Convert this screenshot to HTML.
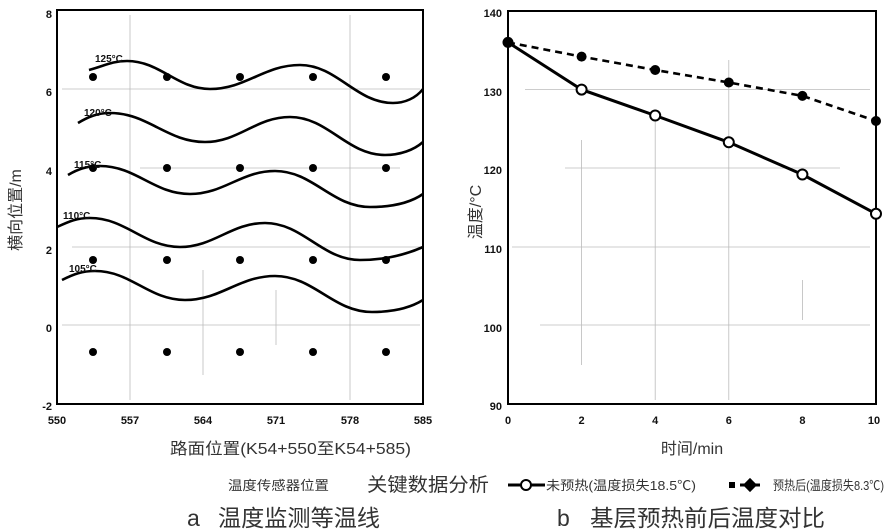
<!DOCTYPE html>
<html><head><meta charset="utf-8"><style>
html,body{margin:0;padding:0;background:#fff;}
svg{display:block;}
.t{font-family:"Liberation Sans",sans-serif;font-weight:bold;font-size:11px;fill:#111;}
.c{font-family:"Liberation Sans","Noto Sans CJK SC",sans-serif;fill:#333;}
</style></head><body>
<svg width="885" height="531" viewBox="0 0 885 531" xmlns="http://www.w3.org/2000/svg">
<rect width="885" height="531" fill="#fff"/>
<!-- LEFT PLOT -->
<g stroke="#bbb" stroke-width="0.8">
<line x1="130" y1="15" x2="130" y2="400"/>
<line x1="203" y1="270" x2="203" y2="375"/>
<line x1="276" y1="290" x2="276" y2="345"/>
<line x1="350" y1="15" x2="350" y2="400"/>
<line x1="62" y1="89" x2="420" y2="89"/>
<line x1="140" y1="168" x2="400" y2="168"/>
<line x1="72" y1="247" x2="420" y2="247"/>
<line x1="62" y1="325" x2="420" y2="325"/>
</g>
<rect x="57" y="10" width="366" height="394" fill="none" stroke="#000" stroke-width="2"/>
<g fill="#000">
<circle cx="93" cy="77" r="4"/><circle cx="167" cy="77" r="4"/><circle cx="240" cy="77" r="4"/><circle cx="313" cy="77" r="4"/><circle cx="386" cy="77" r="4"/>
<circle cx="93" cy="168" r="4"/><circle cx="167" cy="168" r="4"/><circle cx="240" cy="168" r="4"/><circle cx="313" cy="168" r="4"/><circle cx="386" cy="168" r="4"/>
<circle cx="93" cy="260" r="4"/><circle cx="167" cy="260" r="4"/><circle cx="240" cy="260" r="4"/><circle cx="313" cy="260" r="4"/><circle cx="386" cy="260" r="4"/>
<circle cx="93" cy="352" r="4"/><circle cx="167" cy="352" r="4"/><circle cx="240" cy="352" r="4"/><circle cx="313" cy="352" r="4"/><circle cx="386" cy="352" r="4"/>
</g>
<g fill="none" stroke="#000" stroke-width="2.6">
<path d="M89,70 C104,66 112,61 127,61 C160,61 177,89 210,89 C246,89 264,65 300,65 C337,65 356,103 393,103 C405,103 416,98 423,89"/>
<path d="M78,123 C88,117 97,113 110,113 C148,113 167,142 205,142 C239,142 256,117 290,117 C328,117 347,155 385,155 C400,155 414,150 423,142"/>
<path d="M68,175 C78,169 87,166 100,166 C136,166 154,194 190,194 C224,194 241,171 275,171 C313,171 332,207 370,207 C391,207 410,203 423,194"/>
<path d="M57,227 C70,221 77,218 90,218 C126,218 144,247 180,247 C214,247 231,223 265,223 C303,223 322,260 360,260 C385,260 405,255 423,247"/>
<path d="M62,280 C74,274 82,271 95,271 C131,271 149,300 185,300 C221,300 239,276 275,276 C314,276 333,312 372,312 C392,312 410,308 423,300"/>
</g>
<g class="t" style="font-size:10px">
<text x="95" y="62">125°C</text>
<text x="84" y="116">120°C</text>
<text x="74" y="168">115°C</text>
<text x="63" y="219">110°C</text>
<text x="69" y="272">105°C</text>
</g>
<g class="t" text-anchor="end">
<text x="52" y="18">8</text><text x="52" y="96">6</text><text x="52" y="175">4</text>
<text x="52" y="254">2</text><text x="52" y="332">0</text><text x="52" y="410">-2</text>
</g>
<g class="t" text-anchor="middle">
<text x="57" y="424">550</text><text x="130" y="424">557</text><text x="203" y="424">564</text>
<text x="276" y="424">571</text><text x="350" y="424">578</text><text x="423" y="424">585</text>
</g>
<text class="c" font-size="16" transform="translate(21,210) rotate(-90)" text-anchor="middle">横向位置/m</text>
<text class="c" font-size="16" x="170" y="454" textLength="241" lengthAdjust="spacingAndGlyphs">路面位置(K54+550至K54+585)</text>
<!-- RIGHT PLOT -->
<g stroke="#bbb" stroke-width="0.8">
<line x1="581.6" y1="140" x2="581.6" y2="365"/>
<line x1="655.2" y1="120" x2="655.2" y2="400"/>
<line x1="728.8" y1="60" x2="728.8" y2="400"/>
<line x1="802.4" y1="280" x2="802.4" y2="320"/>
<line x1="525" y1="89.6" x2="870" y2="89.6"/>
<line x1="565" y1="168" x2="840" y2="168"/>
<line x1="512" y1="247" x2="870" y2="247"/>
<line x1="540" y1="325" x2="870" y2="325"/>
</g>
<rect x="508" y="11" width="368" height="393" fill="none" stroke="#000" stroke-width="2"/>
<polyline points="508,42.4 581.6,56.6 655.2,70 728.8,82.5 802.4,95.9 876,121" fill="none" stroke="#000" stroke-width="2.6" stroke-dasharray="7,5"/>
<polyline points="508,42.4 581.6,89.6 655.2,115.5 728.8,142.3 802.4,174.5 876,213.8" fill="none" stroke="#000" stroke-width="3"/>
<g fill="#000">
<circle cx="508" cy="42.4" r="5.5"/><circle cx="581.6" cy="56.6" r="5"/><circle cx="655.2" cy="70" r="5"/>
<circle cx="728.8" cy="82.5" r="5"/><circle cx="802.4" cy="95.9" r="5"/><circle cx="876" cy="121" r="5"/>
</g>
<g fill="#fff" stroke="#000" stroke-width="2">
<circle cx="581.6" cy="89.6" r="5"/><circle cx="655.2" cy="115.5" r="5"/><circle cx="728.8" cy="142.3" r="5"/>
<circle cx="802.4" cy="174.5" r="5"/><circle cx="876" cy="213.8" r="5"/>
</g>
<g class="t" text-anchor="end">
<text x="502" y="17">140</text><text x="502" y="96">130</text><text x="502" y="174">120</text>
<text x="502" y="253">110</text><text x="502" y="332">100</text><text x="502" y="410">90</text>
</g>
<g class="t" text-anchor="middle">
<text x="508" y="424">0</text><text x="581.6" y="424">2</text><text x="655.2" y="424">4</text>
<text x="728.8" y="424">6</text><text x="802.4" y="424">8</text><text x="874" y="424">10</text>
</g>
<text class="c" font-size="16" transform="translate(481,212) rotate(-90)" text-anchor="middle">温度/°C</text>
<text class="c" font-size="16" x="692" y="454" text-anchor="middle">时间/min</text>
<!-- LEGEND -->
<text class="c" font-size="13" x="228" y="490" textLength="101" lengthAdjust="spacingAndGlyphs">温度传感器位置</text>
<text class="c" font-size="19" x="367" y="491" textLength="122" lengthAdjust="spacingAndGlyphs">关键数据分析</text>
<line x1="508" y1="485" x2="545" y2="485" stroke="#000" stroke-width="3"/>
<circle cx="526" cy="485" r="5" fill="#fff" stroke="#000" stroke-width="2"/>
<text class="c" font-size="13" x="546" y="490" textLength="150" lengthAdjust="spacingAndGlyphs">未预热(温度损失18.5℃)</text>
<rect x="729" y="482" width="6" height="6" fill="#000"/>
<line x1="740" y1="485" x2="760" y2="485" stroke="#000" stroke-width="3"/>
<rect x="745" y="480" width="10" height="10" fill="#000" transform="rotate(45 750 485)"/>
<text class="c" font-size="13" x="773" y="490" textLength="111" lengthAdjust="spacingAndGlyphs">预热后(温度损失8.3℃)</text>
<text class="c" font-size="23" x="187" y="526">a</text>
<text class="c" font-size="23" x="218" y="526" textLength="162" lengthAdjust="spacingAndGlyphs">温度监测等温线</text>
<text class="c" font-size="23" x="557" y="526">b</text>
<text class="c" font-size="23" x="590" y="526" textLength="235" lengthAdjust="spacingAndGlyphs">基层预热前后温度对比</text>
</svg>
</body></html>
